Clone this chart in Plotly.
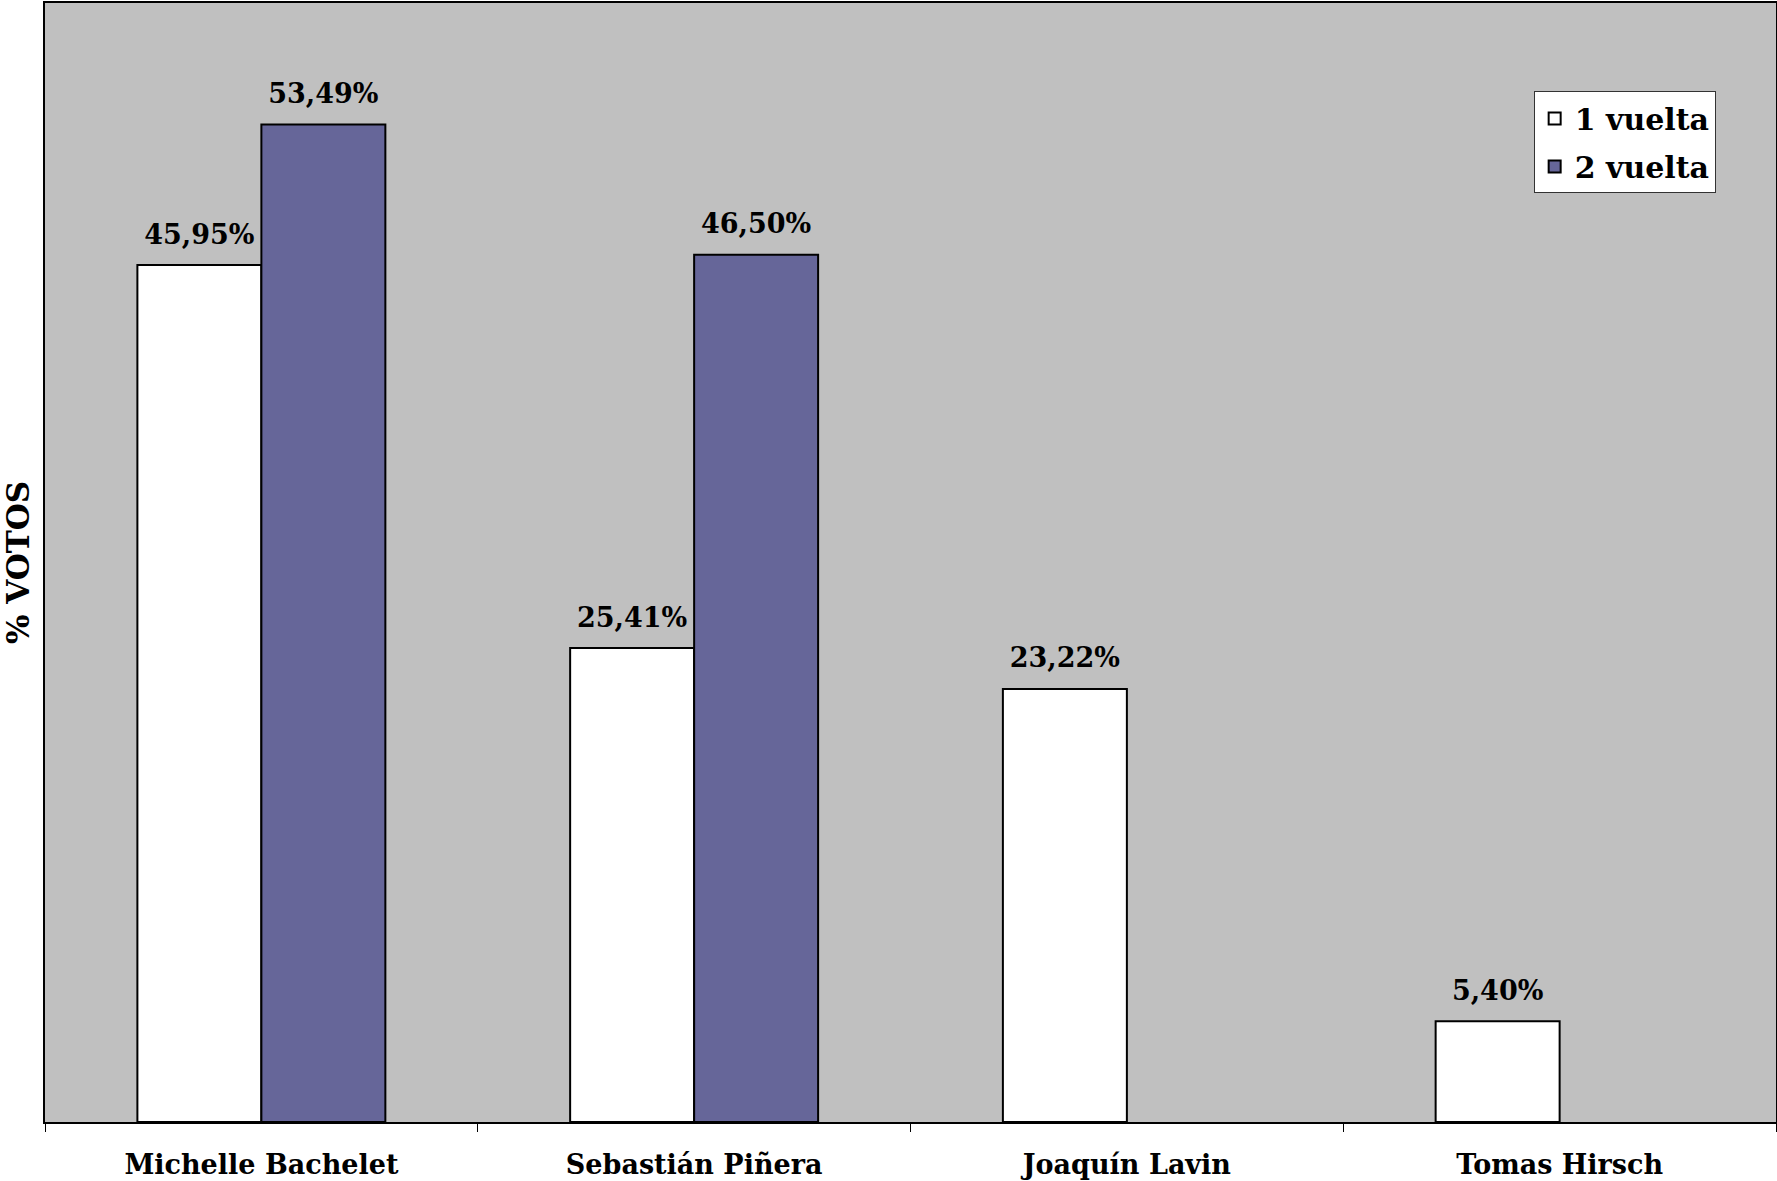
import plotly.graph_objects as go

categories = ["Michelle Bachelet", "Sebastián Piñera", "Joaquín Lavin", "Tomas Hirsch"]
vuelta1 = [45.95, 25.41, 23.22, 5.40]
vuelta2 = [53.49, 46.50, None, None]
series_names = ["1 vuelta", "2 vuelta"]
series_colors = ["#FFFFFF", "#666699"]

FONT = "DejaVu Serif"

def labels(vals):
    return ["" if v is None else f"{v:.2f}".replace(".", ",") + "%" for v in vals]

fig = go.Figure()
for i, (name, vals, col) in enumerate(zip(series_names, [vuelta1, vuelta2], series_colors)):
    fig.add_trace(go.Bar(
        name=name, x=categories, y=vals, offsetgroup=str(i), legendgroup=str(i),
        marker=dict(color=col, line=dict(color="#000000", width=2)),
    ))
for i, vals in enumerate([vuelta1, vuelta2]):
    fig.add_trace(go.Scatter(
        x=categories, y=vals, offsetgroup=str(i), mode="markers+text",
        marker=dict(size=22, color="rgba(0,0,0,0)"),
        text=labels(vals), textposition="top center", cliponaxis=False,
        textfont=dict(family=FONT, size=27, color="#000000", weight="bold"),
        showlegend=False, hoverinfo="skip",
    ))

fig.update_layout(
    width=1777, height=1181,
    margin=dict(l=45, r=1, t=3, b=59, autoexpand=False),
    paper_bgcolor="#FFFFFF", plot_bgcolor="#C0C0C0",
    barmode="group", bargap=0.427, bargroupgap=0,
    scattermode="group", scattergap=0.427,
    showlegend=True,
    legend=dict(
        x=0.860, y=0.921, xanchor="left", yanchor="top",
        bgcolor="#FFFFFF", bordercolor="#333333", borderwidth=1,
        font=dict(family=FONT, size=30, color="#000000", weight="bold"),
        tracegroupgap=6, itemwidth=30,
    ),
    font=dict(family=FONT, color="#000000"),
)
fig.update_xaxes(
    type="category", tickson="boundaries", ticks="outside", ticklen=8,
    tickcolor="#000000", tickwidth=1,
    showline=True, linecolor="#000000", linewidth=2, mirror=True,
    showgrid=False, ticklabelstandoff=18,
    tickfont=dict(family=FONT, size=27, color="#000000", weight="bold"),
)
fig.update_yaxes(
    range=[0, 60], showticklabels=False, ticks="", showgrid=False, zeroline=False,
    showline=True, linecolor="#000000", linewidth=2, mirror=True,
    title=dict(text="% VOTOS", font=dict(family=FONT, size=31, color="#000000", weight="bold"), standoff=10),
    automargin=False,
)
fig.write_html("out.html", config={"displayModeBar": False},
               post_script="document.body.style.margin='0px';")
